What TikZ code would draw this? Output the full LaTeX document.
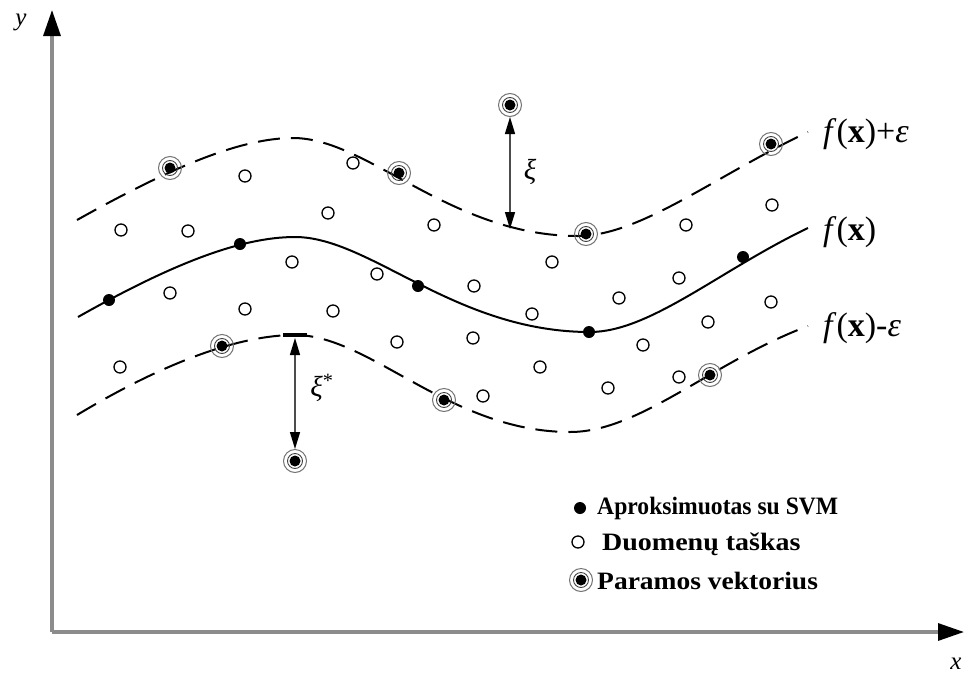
\documentclass[tikz,border=0pt]{standalone}
\usepackage{fontspec}
\setmainfont{Liberation Serif}
\usetikzlibrary{arrows.meta}

\begin{document}
\begin{tikzpicture}[x=1pt,y=-1pt,
  axis/.style={draw=black!45, line width=3.2pt,
    -{Triangle[color=black,length=26pt,width=17pt]}},
  curve/.style={line width=2pt},
  margin/.style={curve, dash pattern=on 22pt off 11pt},
  datapt/.style={circle, draw, line width=1.3pt, minimum size=12pt, inner sep=0pt},
  approx/.style={circle, fill, minimum size=12pt, inner sep=0pt},
  sv/.style={circle, draw=black!55, line width=1pt, minimum size=23pt, inner sep=0pt,
    path picture={
      \draw[black!75, line width=0.9pt] (path picture bounding box.center) circle (7.5pt);
      \fill (path picture bounding box.center) circle (5.5pt);}},
  gap/.style={draw=black!70, line width=1.3pt,
    {Triangle[color=black,length=17pt,width=10pt]}-{Triangle[color=black,length=17pt,width=10pt]}},
  lbl/.style={font=\fontsize{34}{38}\selectfont, anchor=west, inner sep=0pt},
  leg/.style={font=\fontsize{25}{29}\selectfont\bfseries, anchor=west, inner sep=0pt},
  axlbl/.style={font=\fontsize{25}{28}\selectfont\itshape, inner sep=0pt},
  gaplbl/.style={font=\fontsize{29}{32}\selectfont\itshape, inner sep=0pt}
]
\useasboundingbox (0,0) rectangle (969,675);

% axes
\coordinate (O) at (52,632);
\coordinate (ytip) at (52,10);
\coordinate (xtip) at (964,632);
\draw[axis] (O) -- (ytip);
\draw[axis] (O) -- (xtip);
\node[axlbl] (ylab) at (21,22) {y};
\node[axlbl] (xlab) at (956,664) {x};

% regression curve f(x)
\draw[curve] (78,317) .. controls (170,265) and (240,237) .. (295,237)
  .. controls (370,237) and (455,332) .. (590,332)
  .. controls (650,332) and (720,270) .. (808,228);

% upper margin f(x)+eps
\draw[margin] (77,220) .. controls (170,168) and (240,138) .. (293,138)
  .. controls (368,138) and (450,236) .. (578,236)
  .. controls (640,236) and (715,176) .. (808,132);

% lower margin f(x)-eps
\draw[margin] (77,415) .. controls (165,362) and (240,335) .. (295,335)
  .. controls (370,335) and (450,432) .. (570,432)
  .. controls (640,432) and (712,362) .. (808,326);

% curve labels
\node[lbl] (lplus) at (823,134) {\textit{f}(\textbf{x})+\textit{ε}};
\node[lbl] (lmid) at (823,232) {\textit{f}(\textbf{x})};
\node[lbl] (lminus) at (823,328) {\textit{f}(\textbf{x})-\textit{ε}};

% data points
\foreach \i/\p in {1/{121,230},2/{188,231},3/{245,176},4/{328,213},5/{353,163},
  6/{434,225},7/{292,262},8/{377,274},9/{474,286},10/{552,262},11/{619,298},
  12/{532,314},13/{686,225},14/{772,205},15/{679,278},16/{771,302},17/{708,322},
  18/{643,345},19/{679,377},20/{608,388},21/{540,367},22/{483,396},23/{473,338},
  24/{397,342},25/{333,311},26/{245,309},27/{170,293},28/{120,367}}
  \node[datapt] (d\i) at (\p) {};

% points approximated by the SVM
\foreach \i/\p in {1/{109,300},2/{240,244},3/{418,286},4/{589,332},5/{743,257}}
  \node[approx] (a\i) at (\p) {};

% support vectors
\node[sv] (s1) at (170,168) {};
\node[sv] (s2) at (399,173) {};
\node[sv] (s3) at (510,105) {};
\node[sv] (s4) at (586,234) {};
\node[sv] (s5) at (771,144) {};
\node[sv] (s6) at (222,346) {};
\node[sv] (s7) at (444,400) {};
\node[sv] (s8) at (710,375) {};
\node[sv] (s9) at (295,461) {};

% slack variables
\coordinate (up) at (510,229);
\draw[gap] (s3) -- (up);
\node[gaplbl] (xi) at (530,172) {ξ};

\coordinate (lo) at (295,338);
\draw[line width=4pt] (283,335) -- (307,335);
\draw[gap] (lo) -- (s9);
\node[gaplbl] (xis) at (322,388) {ξ\textsuperscript{\upshape *}};

% legend
\node[approx] (la) at (580,508) {};
\node[leg] (ta) at (597,508) {\scalebox{0.945}[1]{Aproksimuotas su SVM}};
\node[datapt] (lb) at (578,542) {};
\node[leg] (tb) at (602,544) {\scalebox{1.12}[1]{Duomenų taškas}};
\node[sv] (lc) at (581,580) {};
\node[leg] (tc) at (597,581) {\scalebox{1.1}[1]{Paramos vektorius}};
\end{tikzpicture}
\end{document}
